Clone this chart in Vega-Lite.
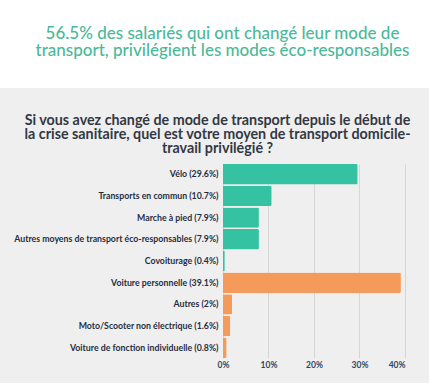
{
  "$schema": "https://vega.github.io/schema/vega-lite/v6.json",
  "background": "#f0eff0",
  "padding": {"left": 0, "top": 0, "right": 0, "bottom": 14},
  "spacing": 26,
  "config": {
    "view": {"stroke": null},
    "font": "Lato"
  },
  "vconcat": [
    {
      "width": 429,
      "height": 88,
      "view": {"fill": "#ffffff", "stroke": null},
      "data": {"values": [{"t": "56.5% des salariés qui ont changé leur mode de|transport, privilégient les modes éco-responsables"}]},
      "mark": {"type": "text", "font": "Lato", "fontSize": 17, "fontWeight": 500, "color": "#4bb999", "lineBreak": "|", "lineHeight": 16.5, "align": "center", "baseline": "middle", "dx": 8, "dy": -10},
      "encoding": {"text": {"field": "t"}}
    },
    {
      "width": 405,
      "height": 194,
      "title": {
        "text": ["Si vous avez changé de mode de transport depuis le début de", "la crise sanitaire, quel est votre moyen de transport domicile-", "travail privilégié ?"],
        "font": "Lato",
        "fontSize": 14.3,
        "fontWeight": "bold",
        "color": "#333843",
        "lineHeight": 13.8,
        "anchor": "middle",
        "frame": "group",
        "offset": 8,
        "dx": 15
      },
      "data": {"values": [
        {"label": "Vélo (29.6%)", "value": 29.6, "group": "eco"},
        {"label": "Transports en commun (10.7%)", "value": 10.7, "group": "eco"},
        {"label": "Marche à pied (7.9%)", "value": 7.9, "group": "eco"},
        {"label": "Autres moyens de transport éco-responsables (7.9%)", "value": 7.9, "group": "eco"},
        {"label": "Covoiturage (0.4%)", "value": 0.4, "group": "eco"},
        {"label": "Voiture personnelle (39.1%)", "value": 39.1, "group": "other"},
        {"label": "Autres (2%)", "value": 2, "group": "other"},
        {"label": "Moto/Scooter non électrique (1.6%)", "value": 1.6, "group": "other"},
        {"label": "Voiture de fonction individuelle (0.8%)", "value": 0.8, "group": "other"}
      ]},
      "mark": {"type": "bar", "cornerRadiusEnd": 1.5},
      "encoding": {
        "y": {
          "field": "label",
          "type": "nominal",
          "sort": null,
          "scale": {"paddingInner": 0.06, "paddingOuter": 0},
          "axis": {"title": null, "offset": -223, "ticks": false, "domain": false, "labelFont": "Lato", "labelFontSize": 8.75, "labelFontWeight": "bold", "labelColor": "#1f2e3f", "labelPadding": 5, "labelLimit": 300}
        },
        "x": {
          "field": "value",
          "type": "quantitative",
          "scale": {"domain": [-49, 40], "nice": false},
          "axis": {"title": null, "values": [0, 10, 20, 30, 40], "labelExpr": "datum.value + '%'", "ticks": false, "domain": false, "grid": true, "gridColor": "#d6d6d6", "labelFont": "Lato", "labelFontSize": 8.5, "labelFontWeight": "bold", "labelColor": "#2e4660", "labelPadding": 2}
        },
        "color": {
          "field": "group",
          "type": "nominal",
          "scale": {"domain": ["eco", "other"], "range": ["#35c2a2", "#f49a5a"]},
          "legend": null
        }
      }
    }
  ]
}
